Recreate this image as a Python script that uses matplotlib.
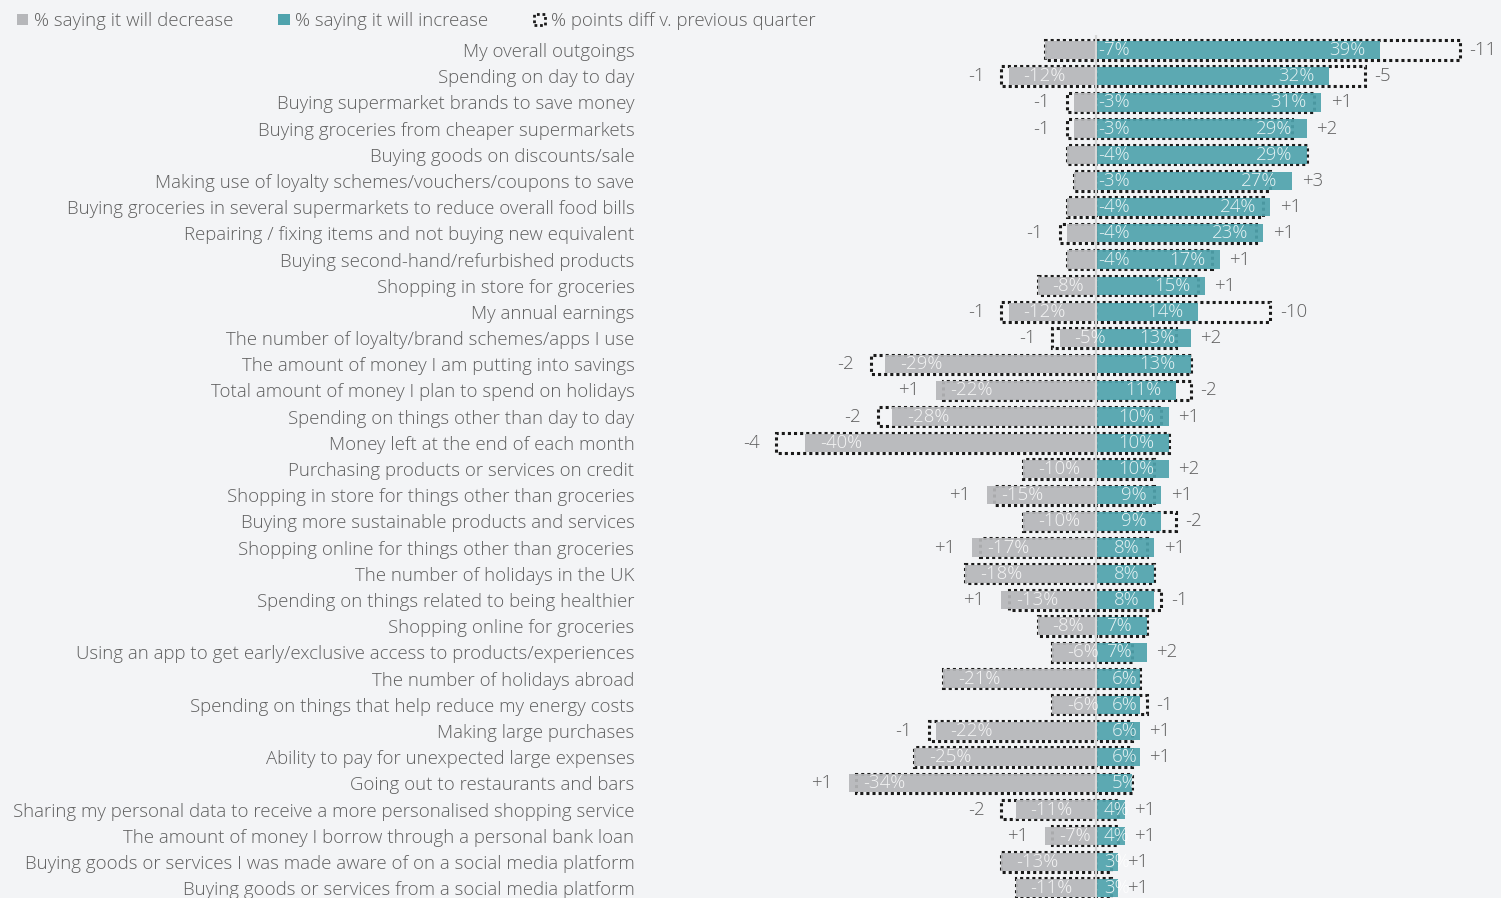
import numpy as np
import matplotlib
matplotlib.use("Agg")
import matplotlib.pyplot as plt
from matplotlib.patches import Patch

plt.rcParams['font.family'] = ['Open Sans', 'DejaVu Sans']

### data (percent of respondents)
categories = [
    "My overall outgoings",
    "Spending on day to day",
    "Buying supermarket brands to save money",
    "Buying groceries from cheaper supermarkets",
    "Buying goods on discounts/sale",
    "Making use of loyalty schemes/vouchers/coupons to save",
    "Buying groceries in several supermarkets to reduce overall food bills",
    "Repairing / fixing items and not buying new equivalent",
    "Buying second-hand/refurbished products",
    "Shopping in store for groceries",
    "My annual earnings",
    "The number of loyalty/brand schemes/apps I use",
    "The amount of money I am putting into savings",
    "Total amount of money I plan to spend on holidays",
    "Spending on things other than day to day",
    "Money left at the end of each month",
    "Purchasing products or services on credit",
    "Shopping in store for things other than groceries",
    "Buying more sustainable products and services",
    "Shopping online for things other than groceries",
    "The number of holidays in the UK",
    "Spending on things related to being healthier",
    "Shopping online for groceries",
    "Using an app to get early/exclusive access to products/experiences",
    "The number of holidays abroad",
    "Spending on things that help reduce my energy costs",
    "Making large purchases",
    "Ability to pay for unexpected large expenses",
    "Going out to restaurants and bars",
    "Sharing my personal data to receive a more personalised shopping service",
    "The amount of money I borrow through a personal bank loan",
    "Buying goods or services I was made aware of on a social media platform",
    "Buying goods or services from a social media platform",
]
decrease = [7, 12, 3, 3, 4, 3, 4, 4, 4, 8, 12, 5, 29, 22, 28, 40, 10, 15, 10, 17,
            18, 13, 8, 6, 21, 6, 22, 25, 34, 11, 7, 13, 11]
increase = [39, 32, 31, 29, 29, 27, 24, 23, 17, 15, 14, 13, 13, 11, 10, 10, 10, 9, 9, 8,
            8, 8, 7, 7, 6, 6, 6, 6, 5, 4, 4, 3, 3]
# % points change v. previous quarter
decrease_diff = [0, -1, -1, -1, 0, 0, 0, -1, 0, 0, -1, -1, -2, 1, -2, -4, 0, 1, 0, 1,
                 0, 1, 0, 0, 0, 0, -1, 0, 1, -2, 1, 0, 0]
increase_diff = [-11, -5, 1, 2, 0, 3, 1, 1, 1, 1, -10, 2, 0, -2, 1, 0, 2, 1, -2, 1,
                 0, -1, 0, 2, 0, -1, 1, 1, 0, 1, 1, 1, 1]

dec = np.array(decrease)
inc = np.array(increase)
dec_prev = dec - np.array(decrease_diff)
inc_prev = inc - np.array(increase_diff)
y = np.arange(len(categories))

GREY = "#b6b7ba"
TEAL = "#4fa3ad"
TXT = "#5f5f5f"
BG = "#f3f4f6"
FS = 13.4

fig = plt.figure(figsize=(15.01, 8.98), dpi=100, facecolor=BG)
ax = fig.add_axes([640/1501, 0, 861/1501, 863/898])
ax.set_facecolor(BG)

# previous quarter boxes (dotted outlines) under the bars
ax.barh(y, -dec_prev, height=0.74, fill=False, edgecolor="#1a1a1a",
        linewidth=2.2, linestyle=(0, (1, 1)), zorder=2)
ax.barh(y, inc_prev, height=0.74, fill=False, edgecolor="#1a1a1a",
        linewidth=2.2, linestyle=(0, (1, 1)), zorder=2)
ax.barh(y, -dec, height=0.7, color=GREY, alpha=0.92, zorder=3)
ax.barh(y, inc, height=0.7, color=TEAL, alpha=0.92, zorder=3)

ax.axvline(0, color="#d6d6d6", lw=1.6, zorder=4)

lbl = dict(va="center", color="white", alpha=0.85, fontsize=FS, fontweight="light", zorder=5)
# value labels in the bars
for i in range(len(y)):
    if dec[i] >= 5 and i > 0:
        ax.text(-dec[i] + 2.0, y[i], f"-{dec[i]}%", ha="left", **lbl)
    else:
        ax.text(0.3, y[i], f"-{dec[i]}%", ha="left", **lbl)
    if inc[i] >= 7:
        ax.text(inc[i] - 2.0, y[i], f"{inc[i]}%", ha="right", **lbl)
    else:
        ax.text(1.1 if inc[i] <= 4 else 2.2, y[i], f"{inc[i]}%", ha="left", **lbl)

    # change v. previous quarter
    if decrease_diff[i] != 0:
        ax.text(-max(dec[i], dec_prev[i]) - 2.3, y[i], f"{decrease_diff[i]:+d}",
                ha="right", va="center", color=TXT, fontsize=FS, fontweight="light")
    if increase_diff[i] != 0:
        ax.text(max(inc[i], inc_prev[i]) + 1.3, y[i], f"{increase_diff[i]:+d}",
                ha="left", va="center", color=TXT, fontsize=FS, fontweight="light")

ax.set_xlim((640 - 1096) / 7.27, (1501 - 1096) / 7.27)
ax.set_ylim((898 - 50) / 26.19, -(50 - 35) / 26.19)
ax.set_yticks(y)
ax.set_yticklabels(categories, fontsize=FS, color=TXT, fontweight="light")
ax.tick_params(axis="y", length=0, pad=4)
ax.set_xticks([])
for s in ax.spines.values():
    s.set_visible(False)

handles = [Patch(facecolor=GREY, edgecolor="none"),
           Patch(facecolor=TEAL, edgecolor="none"),
           Patch(facecolor="none", edgecolor="#1a1a1a", linestyle=(0, (1, 1)), linewidth=2)]
fig.legend(handles, ["% saying it will decrease", "% saying it will increase",
                     "% points diff v. previous quarter"],
           loc="center left", bbox_to_anchor=(0.0, 1 - 21/898), ncol=3, frameon=False,
           labelcolor=TXT, handlelength=0.6, handleheight=0.6,
           handletextpad=0.3, columnspacing=2.45, prop={"weight": "light", "size": FS})

fig.savefig("out.png", dpi=100, facecolor=BG)
